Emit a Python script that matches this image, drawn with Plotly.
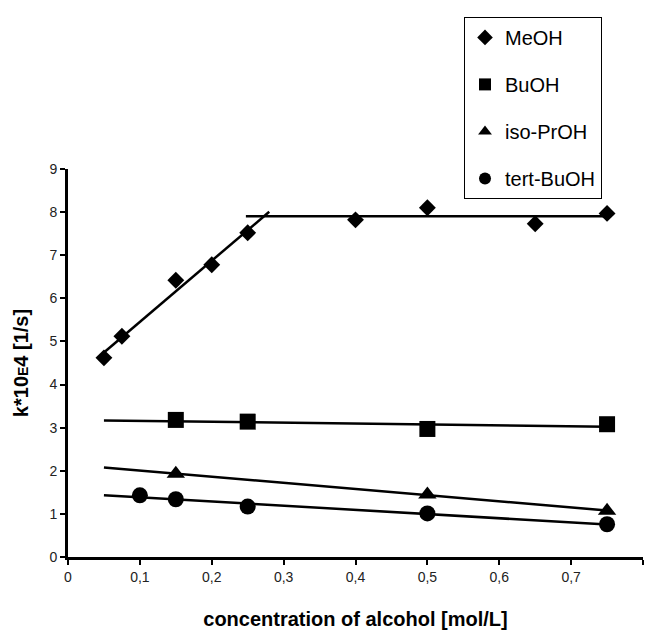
import numpy as np
import plotly.graph_objects as go

# Data
meoh_x = [0.05, 0.075, 0.15, 0.20, 0.25, 0.40, 0.50, 0.65, 0.75]
meoh_y = [4.62, 5.12, 6.42, 6.78, 7.52, 7.82, 8.10, 7.73, 7.97]
buoh_x = [0.15, 0.25, 0.50, 0.75]
buoh_y = [3.18, 3.14, 2.97, 3.08]
ipr_x = [0.15, 0.50, 0.75]
ipr_y = [1.93, 1.45, 1.07]
tbu_x = [0.10, 0.15, 0.25, 0.50, 0.75]
tbu_y = [1.43, 1.34, 1.17, 1.01, 0.76]

x_ticks = [0, 0.1, 0.2, 0.3, 0.4, 0.5, 0.6, 0.7, 0.8]
y_ticks = list(range(0, 10))

FONT = "Liberation Sans, Arial, sans-serif"

fig = go.Figure()

def trend(xs, ys, x0, x1):
    k, b = np.polyfit(xs, ys, 1)
    return [x0, x1], [k * x0 + b, k * x1 + b]

line_style = dict(color="black", width=2.5)

# MeOH: rising segment fitted on first five points, plateau = mean of last four
lx, ly = trend(meoh_x[:5], meoh_y[:5], 0.05, 0.28)
fig.add_trace(go.Scatter(x=lx, y=ly, mode="lines", line=line_style, showlegend=False, hoverinfo="skip"))
plateau = float(np.mean(meoh_y[5:]))
fig.add_trace(go.Scatter(x=[0.2475, 0.75], y=[plateau, plateau], mode="lines", line=line_style,
                         showlegend=False, hoverinfo="skip"))
for xs, ys in [(buoh_x, buoh_y), (ipr_x, ipr_y), (tbu_x, tbu_y)]:
    lx, ly = trend(xs, ys, 0.05, 0.75)
    fig.add_trace(go.Scatter(x=lx, y=ly, mode="lines", line=line_style, showlegend=False, hoverinfo="skip"))

series = [
    ("MeOH", meoh_x, meoh_y, "diamond", 13),
    ("BuOH", buoh_x, buoh_y, "square", 16),
    ("iso-PrOH", ipr_x, ipr_y, "triangle-up", 16),
    ("tert-BuOH", tbu_x, tbu_y, "circle", 16),
]
for i, (name, xs, ys, sym, sz) in enumerate(series):
    fig.add_trace(go.Scatter(x=xs, y=ys, mode="markers", name=name, legendgroup=f"g{i}",
                             marker=dict(symbol=sym, size=sz, color="black", line=dict(width=0))))

# page body adds an 8px offset, so the figure is 8px smaller than the window
fig.update_layout(
    width=644, height=622,
    paper_bgcolor="white", plot_bgcolor="white",
    margin=dict(l=60, r=9, t=158, b=73),
    separators=", ",
    font=dict(family=FONT, color="black"),
    showlegend=True,
    legend=dict(
        x=0.6887, y=1.392, xanchor="left", yanchor="top",
        bordercolor="black", borderwidth=1, bgcolor="white",
        font=dict(size=20, family=FONT, color="black"),
        traceorder="grouped", tracegroupgap=18,
        itemsizing="constant",
    ),
    xaxis=dict(
        range=[0, 0.8], tickvals=x_ticks, showgrid=False, zeroline=False,
        showline=True, linecolor="black", linewidth=3, automargin=False,
        ticks="outside", ticklen=5, tickwidth=2, tickcolor="black",
        tickfont=dict(size=14, family=FONT, color="#222"),
        title=dict(text="<b>concentration of alcohol [mol/L]</b>",
                   font=dict(size=20, family=FONT, color="black"), standoff=30),
    ),
    yaxis=dict(
        range=[0, 9], tickvals=y_ticks, showgrid=False, zeroline=False,
        showline=True, linecolor="black", linewidth=3, automargin=False,
        ticks="outside", ticklen=5, tickwidth=2, tickcolor="black",
        tickfont=dict(size=14, family=FONT, color="#222"),
        title=dict(text="<b>k*10<span style='font-size:14px'>E</span>4 [1/s]</b>",
                   font=dict(size=20, family=FONT, color="black"), standoff=16),
    ),
)

fig.write_html("out.html")
